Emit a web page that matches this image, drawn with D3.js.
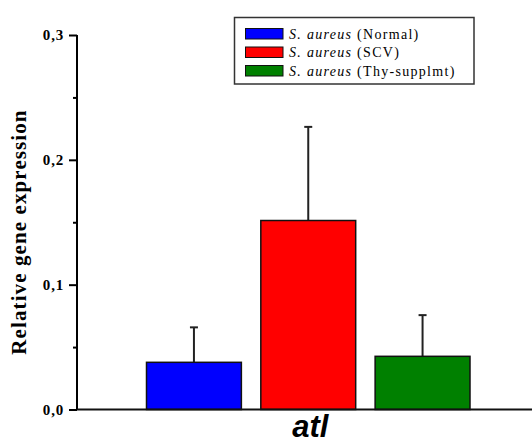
<!DOCTYPE html>
<html><head><meta charset="utf-8">
<script src="https://cdn.jsdelivr.net/npm/d3@7"></script>
<style>body{margin:0;background:#fff}svg{display:block}</style>
</head><body><div id="chart"></div>
<script>
const categories = ["atl"];
const seriesNames = ["Normal", "SCV", "Thy-supplmt"];
const seriesValues = [0.0378, 0.1514, 0.0426];
const seriesErrors = [0.028, 0.075, 0.033];
const seriesColors = ["#0000ff", "#ff0000", "#008000"];
const yTicks = [0, 0.1, 0.2, 0.3];
const yMinorTicks = [0.05, 0.15, 0.25];

const W = 532, H = 445;
const svg = d3.select("#chart").append("svg").attr("width", W).attr("height", H);

const x0 = d3.scaleBand().domain(categories).range([77, 532]).padding(0);
const x1 = d3.scaleBand().domain(seriesNames).range([146.5, 470]).paddingInner(0.17);
const y = d3.scaleLinear().domain([0, 0.3]).range([409.5, 35]);

const fmt = d => d3.format(".1f")(d).replace(".", ",");

// y axis
const yAxis = d3.axisLeft(y).tickValues(yTicks).tickFormat(fmt).tickSize(8).tickPadding(5);
const gy = svg.append("g").attr("transform", "translate(77,0)").call(yAxis);
gy.select(".domain").attr("d", `M0,${y(0.3)}V${y(0)}`).attr("stroke", "#000").attr("stroke-width", 2);
gy.selectAll(".tick line").attr("stroke", "#000").attr("stroke-width", 2);
gy.selectAll(".tick text").style("font-family", "Liberation Serif").style("font-weight", "bold")
  .style("font-size", "15px").attr("letter-spacing", 0.8).attr("fill", "#000");
const gyMinor = svg.append("g").attr("transform", "translate(77,0)")
  .call(d3.axisLeft(y).tickValues(yMinorTicks).tickFormat("").tickSize(4));
gyMinor.select(".domain").remove();
gyMinor.selectAll(".tick line").attr("stroke", "#000").attr("stroke-width", 2);

// bars
const g = svg.append("g");
seriesNames.forEach((s, i) => {
  const cx = x1(s) + x1.bandwidth() / 2;
  const v = seriesValues[i], e = seriesErrors[i];
  g.append("line").attr("x1", cx).attr("x2", cx).attr("y1", y(v)).attr("y2", y(v + e))
    .attr("stroke", "#222").attr("stroke-width", 2);
  g.append("line").attr("x1", cx - 4).attr("x2", cx + 4).attr("y1", y(v + e)).attr("y2", y(v + e))
    .attr("stroke", "#222").attr("stroke-width", 2);
  g.append("rect").attr("x", x1(s)).attr("y", y(v)).attr("width", x1.bandwidth())
    .attr("height", y(0) - y(v)).attr("fill", seriesColors[i]).attr("stroke", "#111").attr("stroke-width", 1.5);
});

// x axis line
svg.append("line").attr("x1", 77).attr("x2", 532).attr("y1", y(0)).attr("y2", y(0))
  .attr("stroke", "#111").attr("stroke-width", 2);

// category label
svg.append("text").attr("x", x1("SCV") + x1.bandwidth() / 2 + 2).attr("y", 437)
  .attr("text-anchor", "middle").attr("font-family", "Liberation Sans").attr("font-weight", "bold")
  .attr("font-style", "italic").attr("font-size", 31).text(categories[0]);

// y label
svg.append("text").attr("transform", "translate(26,232) rotate(-90)").attr("text-anchor", "middle")
  .attr("font-family", "Liberation Serif").attr("font-weight", "bold").attr("font-size", 21)
  .attr("letter-spacing", 1.1).text("Relative gene expression");

// legend
const lg = svg.append("g");
lg.append("rect").attr("x", 234.5).attr("y", 17.5).attr("width", 239.5).attr("height", 66.5)
  .attr("fill", "#fff").attr("stroke", "#333").attr("stroke-width", 1.5);
seriesNames.forEach((s, i) => {
  const yy = 28.5 + i * 18.5;
  lg.append("rect").attr("x", 245.5).attr("y", yy).attr("width", 37.5).attr("height", 10.5)
    .attr("fill", seriesColors[i]).attr("stroke", "#111").attr("stroke-width", 1);
  const t = lg.append("text").attr("x", 289).attr("y", yy + 10).attr("font-family", "Liberation Serif")
    .attr("font-size", 14).attr("letter-spacing", 1.3);
  t.append("tspan").attr("font-style", "italic").text("S. aureus");
  t.append("tspan").text(" (" + s + ")");
});
</script></body></html>
